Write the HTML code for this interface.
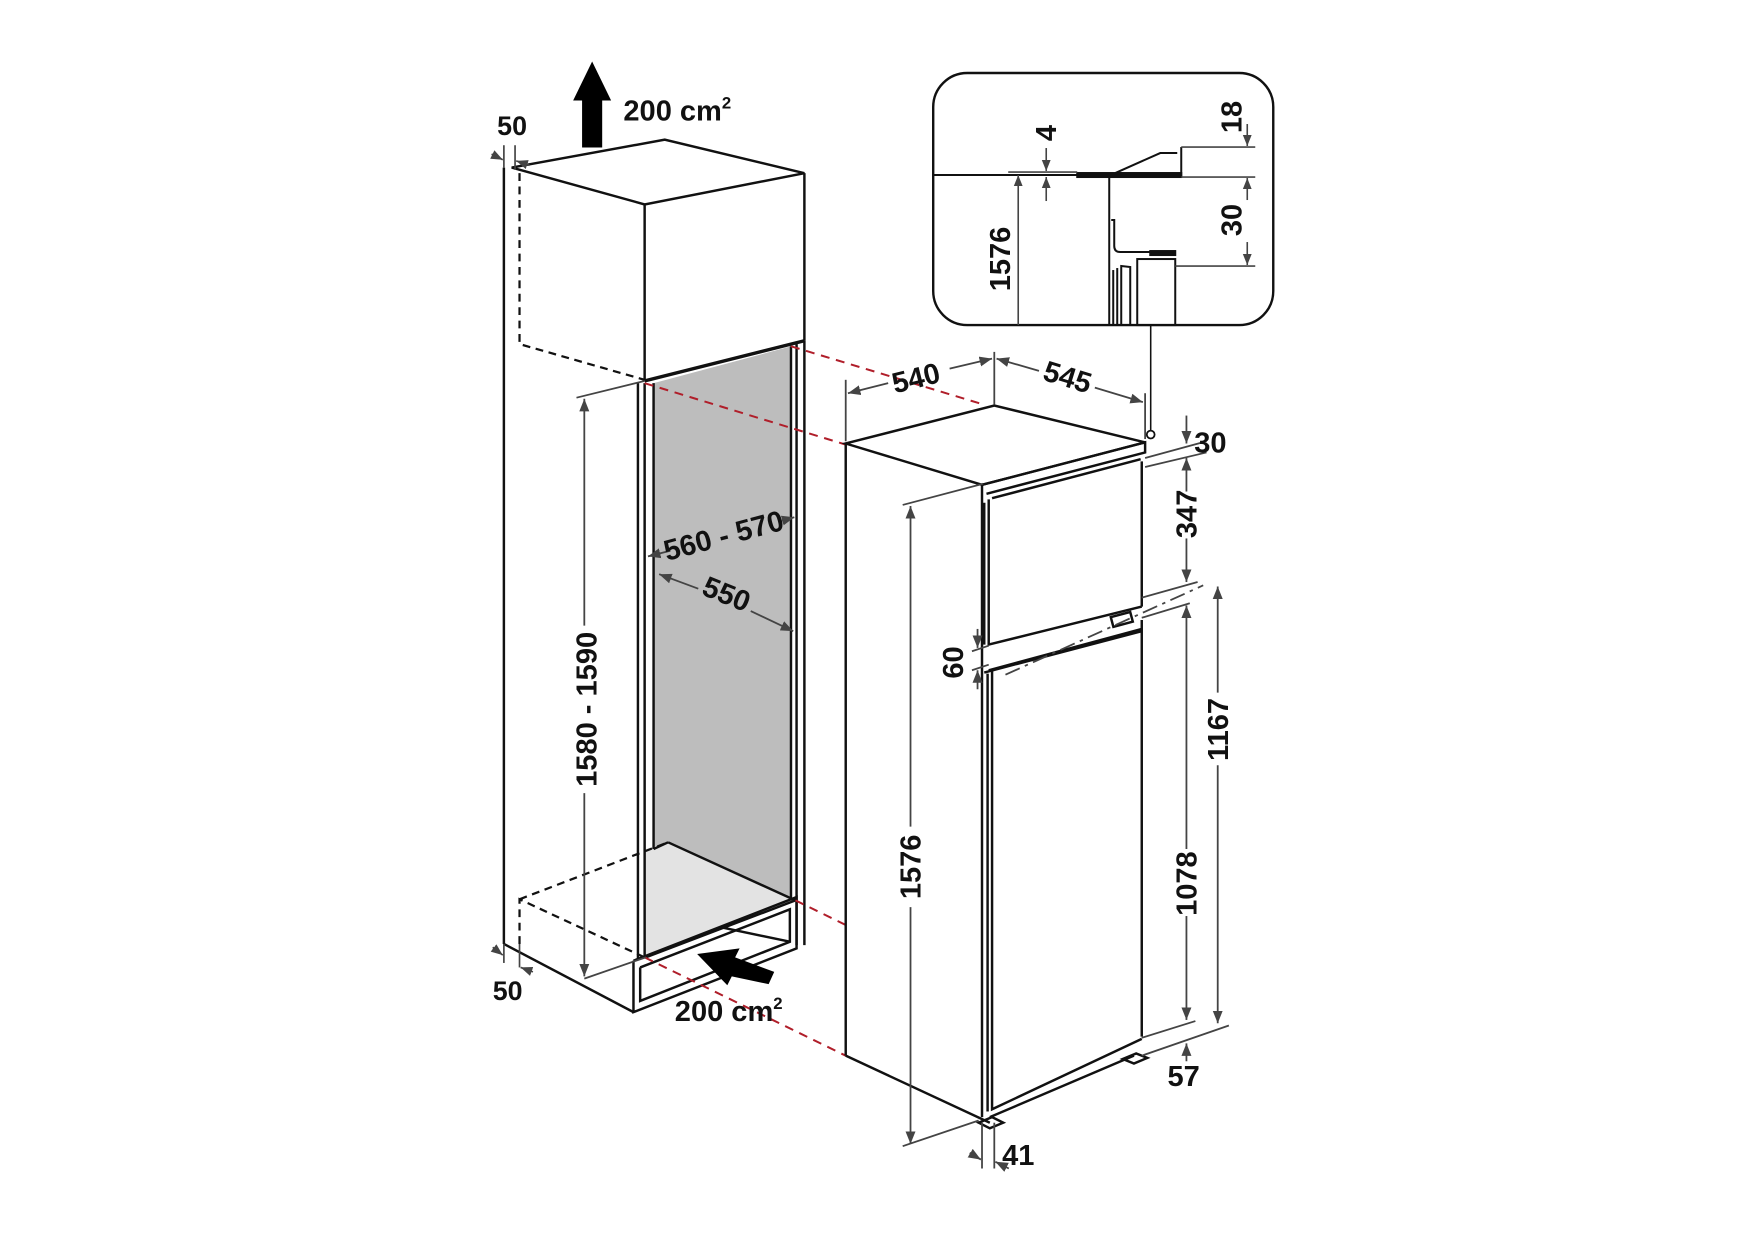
<!DOCTYPE html>
<html><head><meta charset="utf-8"><style>
html,body{margin:0;padding:0;background:#fff;}
svg{display:block;}
text{font-family:"Liberation Sans",sans-serif;font-weight:bold;fill:#111;}
</style></head><body>
<svg width="1754" height="1240" viewBox="0 0 1570 1110" xmlns="http://www.w3.org/2000/svg">
<defs>
<marker id="a" viewBox="0 0 10 10" refX="10" refY="5" markerWidth="7" markerHeight="7" orient="auto-start-reverse"><path d="M0,1 L10,5 L0,9 Z" fill="#444"/></marker>
</defs>
<rect width="1570" height="1110" fill="#fff"/>

<!-- ===== Cabinet ===== -->
<polygon points="585,343 708,310 708,806 598,754 585,760" fill="#bdbdbd"/>
<polygon points="598,754 712,806 578,858 578,760" fill="#e3e3e3"/>
<g fill="none" stroke="#111" stroke-width="2.2">
<line x1="451" y1="150" x2="451" y2="845"/>
<polygon points="458,150 595,125 720,155 577,183" fill="#fff"/>
<line x1="577" y1="183" x2="577" y2="340"/>
<line x1="720" y1="155" x2="720" y2="305"/>
<line x1="577" y1="341" x2="720" y2="305" stroke-width="3"/>
<line x1="571" y1="343" x2="571" y2="858"/>
<line x1="577" y1="343" x2="577" y2="858"/>
<line x1="585" y1="343" x2="585" y2="760"/>
<line x1="708" y1="310" x2="708" y2="806"/>
<line x1="713" y1="308" x2="713" y2="846"/>
<line x1="720" y1="305" x2="720" y2="846"/>
<line x1="585" y1="760" x2="598" y2="754"/>
<line x1="598" y1="754" x2="712" y2="806"/>
<line x1="578" y1="857" x2="712" y2="806"/>
<polyline points="567,860 713,803 713,849 567,906 567,860"/>
<polyline points="573,866 707,814 707,843 573,896 573,866"/>
<line x1="451" y1="845" x2="567" y2="906"/>
<line x1="645" y1="830" x2="707" y2="843"/>
</g>
<g fill="none" stroke="#111" stroke-width="2" stroke-dasharray="7,5">
<polyline points="465,155 465,308 577,340"/>
<polyline points="465,845 465,805 577,857"/>
<line x1="465" y1="805" x2="598" y2="754"/>
</g>
<g stroke="#b01e2a" stroke-width="1.8" stroke-dasharray="8,6" fill="none">
<line x1="577" y1="343" x2="757" y2="398"/>
<line x1="708" y1="310" x2="880" y2="362"/>
<line x1="712" y1="806" x2="757" y2="828"/>
<line x1="577" y1="857" x2="757" y2="945"/>
</g>
<polygon points="521,132 539,132 539,90 547,90 530,55 513,90 521,90" fill="#000"/>
<polygon points="688,881 693,870 658,857 662,849 624,854 651,882 655,874" fill="#000"/>
<text x="558" y="108" font-size="26">200 cm<tspan font-size="15" dy="-11">2</tspan></text>
<text x="604" y="914" font-size="26">200 cm<tspan font-size="15" dy="-11">2</tspan></text>
<text x="445" y="121" font-size="24">50</text>
<g stroke="#444" stroke-width="1.5" fill="none">
<line x1="451" y1="130" x2="451" y2="150"/><line x1="461" y1="130" x2="461" y2="152"/>
<line x1="440" y1="138" x2="450" y2="143" marker-end="url(#a)"/>
<line x1="474" y1="148" x2="462" y2="144" marker-end="url(#a)"/>
<line x1="451" y1="845" x2="451" y2="862"/><line x1="465" y1="845" x2="465" y2="866"/>
<line x1="441" y1="848" x2="450" y2="855" marker-end="url(#a)"/>
<line x1="477" y1="870" x2="466" y2="866" marker-end="url(#a)"/>
</g>
<text x="441" y="895" font-size="24">50</text>
<g stroke="#444" stroke-width="1.6" fill="none">
<line x1="516" y1="356" x2="577" y2="341"/>
<line x1="523" y1="560" x2="523" y2="357" marker-end="url(#a)"/>
<line x1="523" y1="710" x2="523" y2="874" marker-end="url(#a)"/>
<line x1="523" y1="876" x2="578" y2="857"/>
<line x1="600" y1="493" x2="580" y2="498" marker-end="url(#a)"/>
<line x1="700" y1="466" x2="711" y2="463" marker-end="url(#a)"/>
<line x1="625" y1="527" x2="590" y2="514" marker-end="url(#a)"/>
<line x1="672" y1="547" x2="710" y2="565" marker-end="url(#a)"/>
</g>
<text transform="translate(534,635) rotate(-90)" font-size="26" text-anchor="middle">1580 - 1590</text>
<text transform="translate(650,488) rotate(-15)" font-size="26" text-anchor="middle">560 - 570</text>
<text transform="translate(647,540) rotate(22)" font-size="26" text-anchor="middle">550</text>

<!-- ===== Fridge ===== -->
<g fill="none" stroke="#111" stroke-width="2.2">
<polygon points="757,397 890,363 1025,396 879,434" fill="#fff"/>
<line x1="757" y1="397" x2="757" y2="945"/>
<line x1="757" y1="945" x2="886" y2="1005"/>
<line x1="879" y1="434" x2="879" y2="1000"/>
<polyline points="879,434 1025,396 1025,405 883,442"/>
<polyline points="888,446 1021,411"/>
<line x1="1022" y1="413" x2="1022" y2="543"/>
<polyline points="885,447 885,577 1022,543"/>
<polyline points="881,450 881,577"/>
<line x1="885" y1="600" x2="1022" y2="563"/>
<polyline points="881,602 1022,565"/>
<line x1="1022" y1="555" x2="1022" y2="928"/>
<polyline points="888,600 888,993 1022,930"/>
<polyline points="884,603 884,995"/>
<polyline points="886,1000 1015,945"/>
<rect x="995" y="550" width="18" height="9" transform="rotate(-15 1004 554)"/>
<path d="M876,1005 l10,5 l12,-5 l-10,-5 Z"/>
<path d="M1005,948 l10,4 l12,-5 l-10,-4 Z"/>
</g>
<circle cx="1030" cy="389" r="3.5" fill="#fff" stroke="#111" stroke-width="1.6"/>
<line x1="1030" y1="291" x2="1030" y2="385" stroke="#111" stroke-width="1.4"/>
<g stroke="#444" stroke-width="1.6" fill="none">
<line x1="757" y1="340" x2="757" y2="395"/>
<line x1="890" y1="315" x2="890" y2="362"/>
<line x1="1025" y1="352" x2="1025" y2="393"/>
<line x1="795" y1="343" x2="759" y2="352" marker-end="url(#a)"/>
<line x1="850" y1="330" x2="888" y2="321" marker-end="url(#a)"/>
<line x1="930" y1="332" x2="892" y2="321" marker-end="url(#a)"/>
<line x1="980" y1="347" x2="1023" y2="360" marker-end="url(#a)"/>
<line x1="1025" y1="410" x2="1080" y2="395"/>
<line x1="1025" y1="418" x2="1080" y2="405"/>
<line x1="1062" y1="372" x2="1062" y2="397" marker-end="url(#a)"/>
<line x1="1062" y1="440" x2="1062" y2="410" marker-end="url(#a)"/>
<line x1="1062" y1="482" x2="1062" y2="521" marker-end="url(#a)"/>
<line x1="1022" y1="535" x2="1072" y2="521"/>
<line x1="1022" y1="553" x2="1065" y2="540"/>
<line x1="1062" y1="760" x2="1062" y2="542" marker-end="url(#a)"/>
<line x1="1062" y1="820" x2="1062" y2="913" marker-end="url(#a)"/>
<line x1="1022" y1="929" x2="1070" y2="914"/>
<line x1="1022" y1="945" x2="1100" y2="918"/>
<line x1="1062" y1="950" x2="1062" y2="934" marker-end="url(#a)"/>
<line x1="1090" y1="620" x2="1090" y2="525" marker-end="url(#a)"/>
<line x1="1090" y1="685" x2="1090" y2="916" marker-end="url(#a)"/>
<line x1="808" y1="452" x2="880" y2="433"/>
<line x1="815" y1="740" x2="815" y2="453" marker-end="url(#a)"/>
<line x1="815" y1="812" x2="815" y2="1024" marker-end="url(#a)"/>
<line x1="808" y1="1026" x2="876" y2="1003"/>
<line x1="870" y1="583" x2="885" y2="578"/>
<line x1="870" y1="600" x2="885" y2="595"/>
<line x1="875" y1="563" x2="875" y2="580" marker-end="url(#a)"/>
<line x1="875" y1="617" x2="875" y2="600" marker-end="url(#a)"/>
<line x1="879" y1="1005" x2="879" y2="1046"/>
<line x1="890" y1="1005" x2="890" y2="1046"/>
<line x1="868" y1="1032" x2="878" y2="1038" marker-end="url(#a)"/>
<line x1="903" y1="1046" x2="891" y2="1040" marker-end="url(#a)"/>
</g>
<line x1="900" y1="604" x2="1077" y2="524" stroke="#444" stroke-width="1.6" stroke-dasharray="14,5,3,5"/>
<text transform="translate(822,347) rotate(-14)" font-size="26" text-anchor="middle">540</text>
<text transform="translate(953,346) rotate(17)" font-size="26" text-anchor="middle">545</text>
<text x="1069" y="405" font-size="26">30</text>
<text transform="translate(1071,460) rotate(-90)" font-size="26" text-anchor="middle">347</text>
<text transform="translate(1099,653) rotate(-90)" font-size="26" text-anchor="middle">1167</text>
<text transform="translate(1071,791) rotate(-90)" font-size="26" text-anchor="middle">1078</text>
<text x="1045" y="972" font-size="26">57</text>
<text transform="translate(824,776) rotate(-90)" font-size="26" text-anchor="middle">1576</text>
<text transform="translate(862,593) rotate(-90)" font-size="26" text-anchor="middle">60</text>
<text x="897" y="1043" font-size="26">41</text>

<!-- ===== Inset ===== -->
<g transform="scale(0.8953)">
<rect x="933" y="73" width="340" height="252" rx="34" fill="#fff" stroke="#111" stroke-width="2.4"/>
<g fill="none" stroke="#111" stroke-width="2">
<line x1="933" y1="175" x2="1077" y2="175"/>
<rect x="1077" y="173" width="104" height="4" fill="#111"/>
<polyline points="1115,173 1160,153 1177,153"/>
<line x1="1181" y1="147" x2="1181" y2="177"/>
<line x1="1109" y1="177" x2="1109" y2="325"/>
<path d="M1111,220 h3 v26 q0,6 6,6 h55"/>
<rect x="1150" y="251" width="25" height="4" fill="#111"/>
<rect x="1137" y="259" width="38" height="66"/>
<line x1="1113" y1="270" x2="1113" y2="325"/>
<line x1="1117" y1="268" x2="1117" y2="325"/>
<polyline points="1121,325 1121,266 1130,267 1130,325"/>
</g>
<g stroke="#444" stroke-width="1.6" fill="none">
<line x1="1008" y1="172" x2="1077" y2="172"/>
<line x1="1181" y1="147" x2="1255" y2="147"/>
<line x1="1181" y1="177" x2="1255" y2="177"/>
<line x1="1175" y1="266" x2="1255" y2="266"/>
<line x1="1018" y1="325" x2="1018" y2="175" marker-end="url(#a)"/>
<line x1="1046" y1="148" x2="1046" y2="171" marker-end="url(#a)"/>
<line x1="1046" y1="201" x2="1046" y2="177" marker-end="url(#a)"/>
<line x1="1247" y1="124" x2="1247" y2="146" marker-end="url(#a)"/>
<line x1="1247" y1="200" x2="1247" y2="178" marker-end="url(#a)"/>
<line x1="1247" y1="242" x2="1247" y2="265" marker-end="url(#a)"/>
</g>
<text transform="translate(1010,259) rotate(-90)" font-size="29" text-anchor="middle">1576</text>
<text transform="translate(1056,133) rotate(-90)" font-size="29" text-anchor="middle">4</text>
<text transform="translate(1241,117) rotate(-90)" font-size="29" text-anchor="middle">18</text>
<text transform="translate(1241,220) rotate(-90)" font-size="29" text-anchor="middle">30</text>
</g>
</svg>
</body></html>
